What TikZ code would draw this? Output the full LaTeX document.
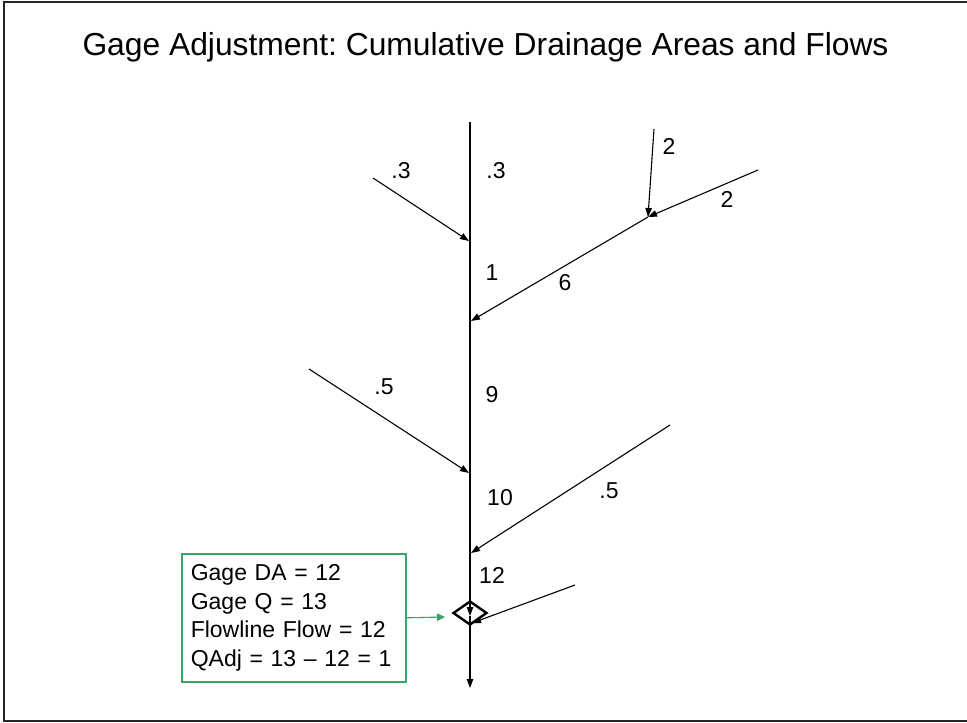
\documentclass[tikz,border=0pt]{standalone}
\usepackage{fontspec}
\setmainfont{Liberation Sans}
\usepackage{tikz}
\usetikzlibrary{arrows.meta,shapes.geometric}
\definecolor{gagegreen}{RGB}{58,163,104}
\definecolor{framegray}{RGB}{38,38,38}
\frenchspacing

\begin{document}
\begin{tikzpicture}[x=1pt, y=-1pt,
  every node/.style={font=\fontsize{23}{27}\selectfont, inner sep=0pt},
  flow/.style={-{Triangle[length=9pt,width=6.5pt]}, line width=1.1pt},
  note/.style={draw=gagegreen, line width=1.6pt, align=left, anchor=north west,
               text width=206pt, inner xsep=9pt, inner ysep=6pt,
               minimum height=128pt, font=\fontsize{23}{28.7}\selectfont},
  pointer/.style={-{Triangle[length=8pt,width=7.5pt]}, gagegreen, line width=1.1pt},
  gagemark/.style={draw, diamond, line width=2.4pt, minimum width=34pt,
                   minimum height=24pt, inner sep=0pt}
]
\useasboundingbox (0,0) rectangle (967,723);
\draw[framegray, line width=1.6pt] (4,1.8) rectangle (972,720.8);

\node[anchor=base, font=\fontsize{31.8}{36}\selectfont] (title) at (485.5,55)
  {Gage Adjustment: Cumulative Drainage Areas and Flows};

% main flowline
\coordinate (top)  at (470,122);
\coordinate (gtip) at (470,616);
\coordinate (out)  at (470,688);
\node[gagemark] (gage) at (470,613) {};
\draw[flow] (top) -- (gtip);
\draw[flow] (gtip) -- (out);

% tributary ends and confluences
\coordinate (srcA) at (373,178);  \coordinate (jA) at (469,241);
\coordinate (srcB) at (654,129);  \coordinate (srcC) at (758,170);
\coordinate (jBC)  at (648,217);  \coordinate (jB) at (471,321);
\coordinate (srcD) at (309,369);  \coordinate (jD) at (469,473);
\coordinate (srcE) at (670,425);  \coordinate (jE) at (471,553);
\coordinate (srcF) at (575,585);  \coordinate (jF) at (472,623);
\foreach \from/\to in {srcA/jA, srcB/jBC, srcC/jBC, jBC/jB, srcD/jD, srcE/jE, srcF/jF}
  \draw[flow] (\from) -- (\to);

% drainage areas
\node (aA)   at (401,171) {.3};
\node (qTop) at (496,171) {.3};
\node (q1)   at (492,273) {1};
\node (aBC)  at (565,283) {6};
\node (aB)   at (669,146) {2};
\node (aC)   at (727,199) {2};
\node (aD)   at (384,387) {.5};
\node (q9)   at (492,395) {9};
\node (q10)  at (500,498) {10};
\node (aE)   at (609,491) {.5};
\node (q12)  at (492,575) {12};

% gage note
\node[note] (info) at (181,553) {Gage DA = 12\\Gage Q = 13\\Flowline Flow = 12\\QAdj = 13 -- 12 = 1};
\coordinate (gagein) at (445,617);
\draw[pointer] (info.east) -- (gagein);
\end{tikzpicture}
\end{document}
